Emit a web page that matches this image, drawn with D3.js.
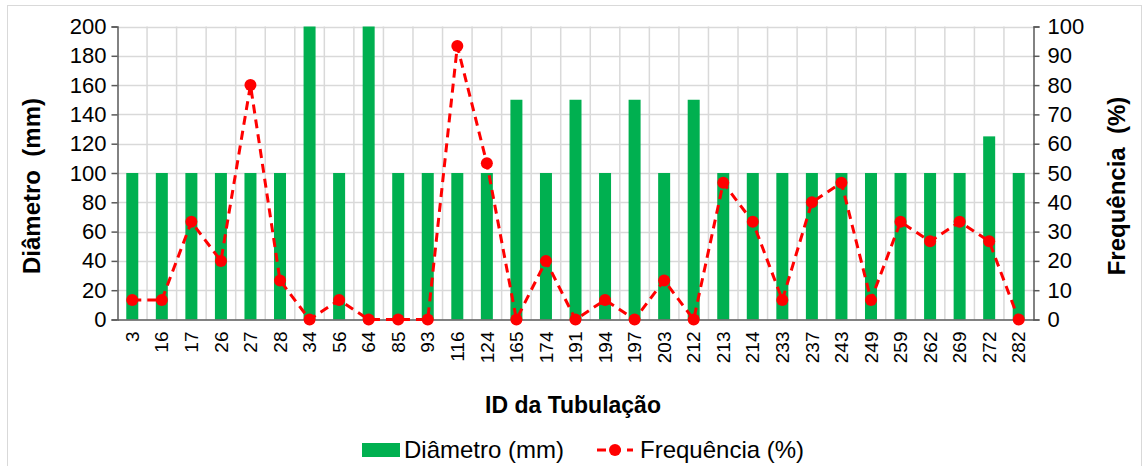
<!DOCTYPE html>
<html><head><meta charset="utf-8">
<script src="https://cdn.jsdelivr.net/npm/d3@7"></script>
<style>body{margin:0;background:#fff;}svg{display:block;font-family:"Liberation Sans",Arial,sans-serif;}</style>
</head><body><svg id="c" width="1143" height="466"></svg>
<script>
const categories = ["3","16","17","26","27","28","34","56","64","85","93","116","124","165","174","191","194","197","203","212","213","214","233","237","243","249","259","262","269","272","282"];
const diametro = [100,100,100,100,100,100,200,100,200,100,100,100,100,150,100,150,100,150,100,150,100,100,100,100,100,100,100,100,100,125,100];
const frequencia = [6.67,6.67,33.33,20,80,13.33,0,6.67,0,0,0,93.33,53.33,0,20,0,6.67,0,13.33,0,46.67,33.33,6.67,40,46.67,6.67,33.33,26.67,33.33,26.67,0];
const leftTicks = [0,20,40,60,80,100,120,140,160,180,200];
const rightTicks = [0,10,20,30,40,50,60,70,80,90,100];

const svg = d3.select("#c");
const L=117.5, R=1033.5, T=26.5, B=319.5;
const green="#00b050", red="#ff0000", axisCol="#595959", gridCol="#d9d9d9";

svg.append("rect").attr("x",7.5).attr("y",5.5).attr("width",1134).attr("height",470).attr("fill","none").attr("stroke","#d9d9d9");

const x = d3.scaleBand().domain(categories).range([L,R]).paddingInner(0).paddingOuter(0);
const yL = d3.scaleLinear().domain([0,200]).range([B,T]);
const yR = d3.scaleLinear().domain([0,100]).range([B,T]);

// gridlines
const g = svg.append("g");
g.selectAll("line.h").data(leftTicks.slice(1)).join("line")
  .attr("x1",L).attr("x2",R).attr("y1",d=>Math.round(yL(d))+0.5).attr("y2",d=>Math.round(yL(d))+0.5)
  .attr("stroke",gridCol).attr("stroke-width",1.5);
g.selectAll("line.v").data(categories.slice(1)).join("line")
  .attr("x1",d=>x(d)).attr("x2",d=>x(d)).attr("y1",T).attr("y2",B)
  .attr("stroke",gridCol).attr("stroke-width",1.5);

// bars
const bw = 12;
svg.append("g").selectAll("rect").data(categories).join("rect")
  .attr("x",(d,i)=>x(d)+x.bandwidth()/2-bw/2)
  .attr("width",bw)
  .attr("y",(d,i)=>yL(diametro[i]))
  .attr("height",(d,i)=>yL(0)-yL(diametro[i]))
  .attr("fill",green);

// axes
const axL = d3.axisLeft(yL).tickValues(leftTicks).tickSize(6).tickPadding(5);
const gl = svg.append("g").attr("transform",`translate(${L},0)`).call(axL);
const axR = d3.axisRight(yR).tickValues(rightTicks).tickSize(6).tickPadding(8);
const gr = svg.append("g").attr("transform",`translate(${R},0)`).call(axR);
[gl,gr].forEach(a=>{
  a.select(".domain").attr("stroke",axisCol).attr("stroke-width",1.5);
  a.selectAll(".tick line").attr("stroke",axisCol).attr("stroke-width",1.5);
  a.selectAll(".tick text").attr("font-size",22).attr("fill","#000").attr("font-family","Liberation Sans, Arial, sans-serif");
});
const axB = d3.axisBottom(x).tickSize(0).tickPadding(0);
const gb = svg.append("g").attr("transform",`translate(0,${B})`).call(axB);
gb.select(".domain").attr("stroke",axisCol).attr("stroke-width",1.5);
gb.selectAll(".tick text").attr("font-size",19).attr("fill","#000")
  .attr("font-family","Liberation Sans, Arial, sans-serif")
  .attr("transform","rotate(-90)").attr("text-anchor","end")
  .attr("x",-12).attr("y",0).attr("dy","0.35em");

// line
const lineGen = d3.line().x((d,i)=>x(categories[i])+x.bandwidth()/2).y(d=>yR(d));
svg.append("path").datum(frequencia).attr("d",lineGen)
  .attr("fill","none").attr("stroke",red).attr("stroke-width",3).attr("stroke-dasharray","9,6");
svg.append("g").selectAll("circle").data(frequencia).join("circle")
  .attr("cx",(d,i)=>x(categories[i])+x.bandwidth()/2).attr("cy",d=>yR(d)).attr("r",6).attr("fill",red);

// titles
svg.append("text").attr("transform",`translate(40,186) rotate(-90)`).attr("text-anchor","middle")
  .attr("font-size",24).attr("font-weight","bold").attr("fill","#000").text("Diâmetro  (mm)").style("white-space","pre");
svg.append("text").attr("transform",`translate(1125,186) rotate(-90)`).attr("text-anchor","middle")
  .attr("font-size",24).attr("font-weight","bold").attr("fill","#000").text("Frequência  (%)").style("white-space","pre");
svg.append("text").attr("x",573).attr("y",413).attr("text-anchor","middle")
  .attr("font-size",23).attr("font-weight","bold").attr("fill","#000").text("ID da Tubulação");

// legend
const lg = svg.append("g");
lg.append("rect").attr("x",362).attr("y",443).attr("width",38).attr("height",14).attr("fill",green);
lg.append("text").attr("x",404).attr("y",458).attr("font-size",24).attr("fill","#000").text("Diâmetro (mm)");
lg.append("line").attr("x1",597).attr("x2",633).attr("y1",450).attr("y2",450).attr("stroke",red).attr("stroke-width",3).attr("stroke-dasharray","9,6");
lg.append("circle").attr("cx",615).attr("cy",450).attr("r",6).attr("fill",red);
lg.append("text").attr("x",640).attr("y",458).attr("font-size",24).attr("fill","#000").text("Frequência (%)");
</script></body></html>
